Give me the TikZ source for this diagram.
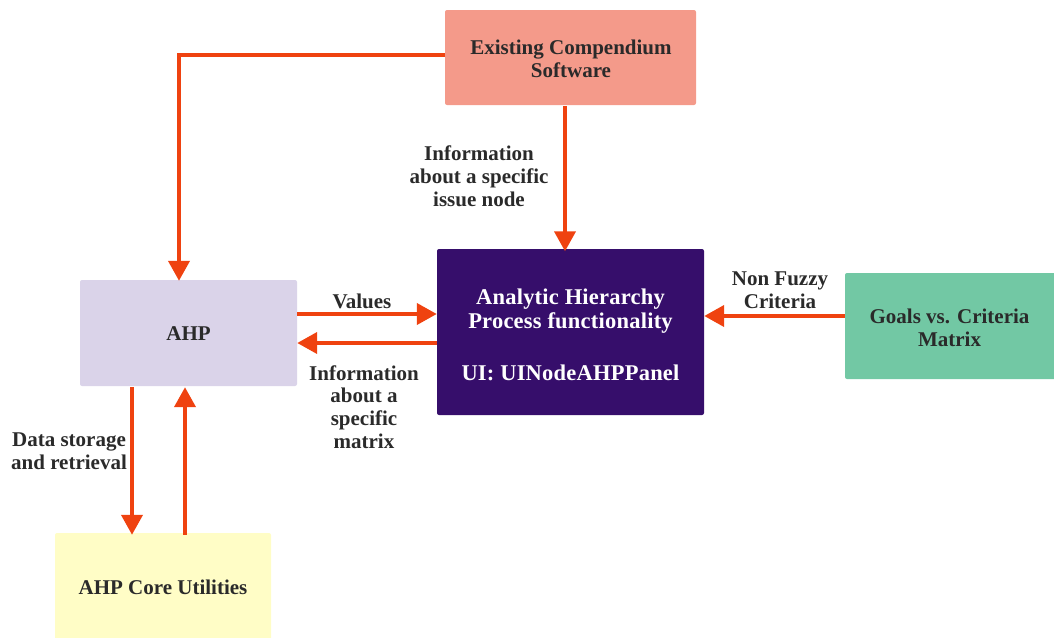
\documentclass[tikz,border=0pt]{standalone}
\usepackage{fontspec}
\setmainfont{Liberation Serif}
\usetikzlibrary{arrows.meta}
\definecolor{salmon}{HTML}{F49A8A}
\definecolor{lav}{HTML}{DAD3E9}
\definecolor{dpurple}{HTML}{360E6B}
\definecolor{mgreen}{HTML}{72C8A4}
\definecolor{lyellow}{HTML}{FFFDC6}
\definecolor{arr}{HTML}{EF4210}
\definecolor{txt}{HTML}{2A2A2A}
\tikzset{
  box/.style={draw=none, rounded corners=2pt, inner sep=0pt, align=center,
    font=\fontsize{21}{23}\selectfont\bfseries, text=txt},
  lbl/.style={align=center, inner sep=0pt, text=txt,
    font=\fontsize{21}{22.8}\selectfont\bfseries},
  conn/.style={draw=arr, line width=4pt, -{Triangle[length=20pt,width=21pt]}},
}
\begin{document}
\begin{tikzpicture}[x=1pt,y=-1pt]
\useasboundingbox (0,0) rectangle (1054,637);
% boxes
\fill[salmon, rounded corners=2pt] (445,10) rectangle (696,105);
\node[box, minimum width=251pt, minimum height=95pt] (ecs) at (571,58.5) {Existing Compendium\\Software};
\fill[lav, rounded corners=2pt] (80,280) rectangle (297,386);
\node[box, minimum width=217pt, minimum height=106pt] (ahp) at (188.5,334) {AHP};
\fill[dpurple, rounded corners=2pt] (437,249) rectangle (704,415);
\node[box, text=white, minimum width=267pt, minimum height=166pt,
  font=\fontsize{22.5}{24.5}\selectfont\bfseries\addfontfeature{LetterSpace=1}] (ahpf) at (570.5,334.5)
  {Analytic Hierarchy\\Process functionality\\[27pt]UI: UINodeAHPPanel};
\fill[mgreen, rounded corners=2pt] (845,273) rectangle (1060,379);
\node[box, minimum width=209pt, minimum height=106pt] (gcm) at (949.5,328) {Goals vs. Criteria\\Matrix};
\fill[lyellow, rounded corners=2pt] (55,533) rectangle (271,645);
\node[box, minimum width=216pt, minimum height=104pt] (core) at (163,587) {AHP Core Utilities};
% coordinates
\coordinate (c1) at (179,55);
% connectors
\draw[conn] (ecs.west |- 0,55) -- (c1) -- (ahp.north -| c1);
\draw[conn] (ecs.south -| 565,0) -- (ahpf.north -| 565,0);
\draw[conn] (ahp.east |- 0,314) -- (ahpf.west |- 0,314);
\draw[conn] (ahpf.west |- 0,343) -- (ahp.east |- 0,343);
\draw[conn] (gcm.west |- 0,316) -- (ahpf.east |- 0,316);
\draw[conn] (ahp.south -| 132,0) -- (core.north -| 132,0);
\draw[conn] (core.north -| 185,0) -- (ahp.south -| 185,0);
% labels
\node[lbl] (l1) at (479,176) {Information\\about a specific\\issue node};
\node[lbl] (l2) at (362,301) {Values};
\node[lbl] (l3) at (364,407) {Information\\about a\\specific\\matrix};
\node[lbl] (l4) at (780,290) {Non Fuzzy\\Criteria};
\node[lbl] (l5) at (69,451) {Data storage\\and retrieval};
\end{tikzpicture}
\end{document}
